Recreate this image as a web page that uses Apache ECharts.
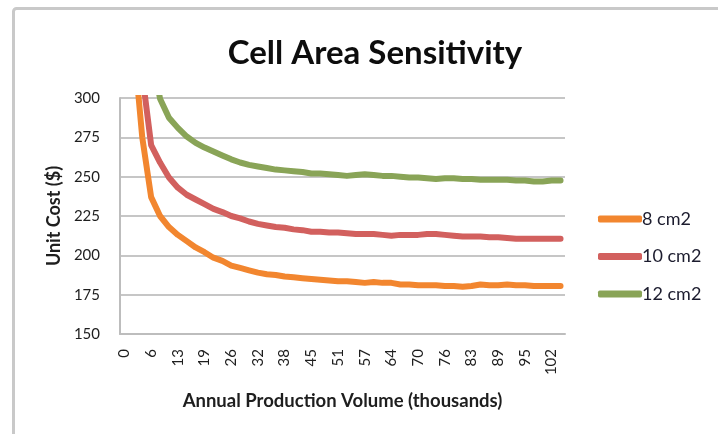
<!DOCTYPE html>
<html>
<head>
<meta charset="utf-8">
<title>Cell Area Sensitivity</title>
<script src="https://cdn.jsdelivr.net/npm/echarts@6/dist/echarts.min.js"></script>
<style>
  html, body { margin: 0; padding: 0; background: #ffffff; }
  #chart { width: 718px; height: 434px; }
</style>
</head>
<body>
<div id="chart"></div>
<script>
// Annual production volume (thousands), one entry per simulated point
var volumes = ["0","2","4","6","9","11","13","15","17","19","21","23","26","28","30","32","34","36","38","40",
               "43","45","47","49","51","53","55","57","60","62","64","66","68","70","72","74","76","79","81","83",
               "85","87","89","91","93","95","98","100","102","104"];

// Unit cost ($) per cell area
var cost8 = [480, 337, 275, 237, 225, 218, 213, 209, 205, 202, 198.5, 196.5, 193.5, 192, 190.5, 189, 188, 187.5, 186.5, 186,
             185.5, 185, 184.5, 184, 183.5, 183.5, 183, 182.5, 183, 182.5, 182.5, 181.5, 181.5, 181, 181, 181, 180.5, 180.5, 180, 180.5,
             181.5, 181, 181, 181.5, 181, 181, 180.5, 180.5, 180.5, 180.5];
var cost10 = [600, 420, 315, 270, 259, 249.5, 243, 238.5, 235.5, 232.5, 229.5, 227.5, 225, 223.5, 221.5, 220, 219, 218, 217.5, 216.5,
              216, 215, 215, 214.5, 214.5, 214, 213.5, 213.5, 213.5, 213, 212.5, 213, 213, 213, 213.5, 213.5, 213, 212.5, 212, 212,
              212, 211.5, 211.5, 211, 210.5, 210.5, 210.5, 210.5, 210.5, 210.5];
var cost12 = [800, 500, 380, 330, 299.5, 287.5, 281, 275.5, 271.5, 268.5, 266, 263.5, 261, 259, 257.5, 256.5, 255.5, 254.5, 254, 253.5,
              253, 252, 252, 251.5, 251, 250.5, 251, 251.5, 251, 250.5, 250.5, 250, 249.5, 249.5, 249, 248.5, 249, 249, 248.5, 248.5,
              248, 248, 248, 248, 247.5, 247.5, 247, 247, 247.5, 247.5];

var seriesNames = ["8 cm2", "10 cm2", "12 cm2"];
var seriesColors = ["#F2862F", "#D2605E", "#89A457"];

var FONT = "Lato, 'Open Sans', sans-serif";
var TEXT = "#1e1e1e";

var chart = echarts.init(document.getElementById("chart"), null, { renderer: "canvas" });

function lineSeries(name, data, color) {
  return {
    name: name,
    type: "line",
    data: data,
    symbol: "none",
    clip: true,
    lineStyle: { color: color, width: 6, cap: "round", join: "round" },
    itemStyle: { color: color }
  };
}

chart.setOption({
  animation: false,
  backgroundColor: "#ffffff",
  graphic: [{
    type: "rect",
    left: 11, top: 6,
    shape: { width: 730, height: 450, r: 3 },
    style: { fill: "none", stroke: "#c9c9c9", lineWidth: 3 },
    z: -1
  }],
  title: {
    text: "Cell Area Sensitivity",
    left: 370, top: 32,
    textAlign: "center",
    textStyle: { fontFamily: FONT, fontSize: 33, fontWeight: "bold", color: "#0d0d0d" }
  },
  legend: {
    orient: "vertical",
    left: 593, top: 205,
    itemWidth: 44, itemHeight: 7,
    itemGap: 19.5,
    icon: "roundRect",
    data: seriesNames,
    textStyle: { fontFamily: FONT, fontSize: 18, color: "#1c1c2e", padding: [0, 0, 0, -5] }
  },
  grid: { left: 120, right: 153, top: 98, bottom: 100, containLabel: false },
  xAxis: {
    type: "category",
    data: volumes,
    boundaryGap: true,
    name: "Annual Production Volume (thousands)",
    nameLocation: "middle",
    nameGap: 58,
    nameTextStyle: { fontFamily: FONT, fontSize: 18.5, fontWeight: "bold", color: TEXT },
    axisLine: { show: true, lineStyle: { color: "#bdbdbd", width: 2 } },
    axisTick: { show: false },
    axisLabel: { interval: 2, rotate: 90, margin: 15, fontFamily: FONT, fontSize: 15, color: TEXT },
    splitLine: { show: false }
  },
  yAxis: {
    type: "value",
    min: 150, max: 300, interval: 25,
    name: "Unit Cost ($)",
    nameLocation: "middle",
    nameRotate: 90,
    nameGap: 53,
    nameTextStyle: { fontFamily: FONT, fontSize: 18, fontWeight: "bold", color: TEXT },
    axisLine: { show: true, lineStyle: { color: "#bdbdbd", width: 2 } },
    axisTick: { show: false },
    axisLabel: { margin: 20, fontFamily: FONT, fontSize: 15, color: TEXT },
    splitLine: { show: true, lineStyle: { color: "#c6c6c6", width: 2 } }
  },
  series: [
    lineSeries(seriesNames[0], cost8, seriesColors[0]),
    lineSeries(seriesNames[1], cost10, seriesColors[1]),
    lineSeries(seriesNames[2], cost12, seriesColors[2])
  ]
});
</script>
</body>
</html>
